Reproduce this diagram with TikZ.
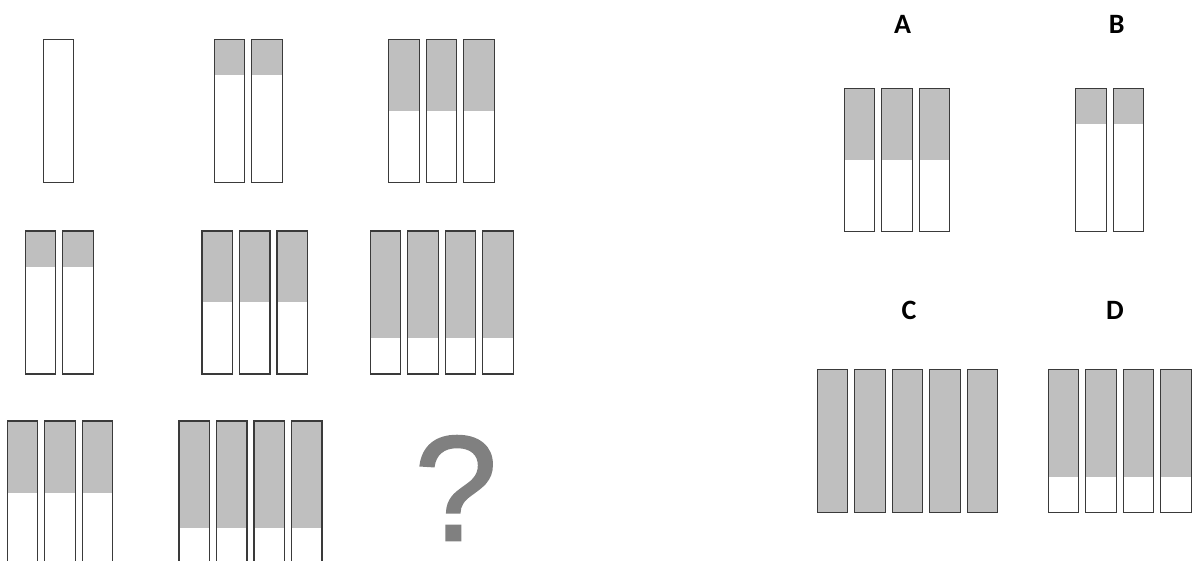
\documentclass[tikz,border=0pt]{standalone}
\usepackage{fontspec}
\setsansfont{Carlito}
\newfontfamily\qfont[FakeBold=1.2]{Liberation Sans}
\definecolor{barfill}{HTML}{BFBFBF}
\definecolor{edge}{HTML}{3A3A3A}
\definecolor{qgray}{HTML}{808080}
\begin{document}
\begin{tikzpicture}[x=1pt,y=-1pt,
 tube/.style={draw=edge,line width=1.1pt},
 letter/.style={font=\sffamily\bfseries\fontsize{28}{30}\selectfont,anchor=base,inner sep=0pt}]
\path[use as bounding box] (0,0) rectangle (1195,561);
\begin{scope}
\clip (0,0) rectangle (1195,561);
% Each group: left edge, top, number of tubes, shaded fraction.
\foreach \x/\y/\n/\f in {43.3/39.3/1/0,214.3/39.3/2/.25,388.7/39.3/3/.5,
 25.3/231/2/.25,202/231/3/.5,370.3/231/4/.75,
 7.3/421/3/.5,179/421/4/.75,
 844.3/88.7/3/.5,1075.7/88.7/2/.25,817.3/369.3/5/1,1048.3/369.3/4/.75} {
 \foreach \i in {1,...,\n} {
  \fill[barfill] (\x+37.5*\i-37.5,\y) rectangle +(30.5,143*\f);
  \draw[tube] (\x+37.5*\i-37.5,\y) rectangle +(30.5,143);
 }
}
\end{scope}
\node[text=qgray,font=\qfont\fontsize{150}{150}\selectfont,inner sep=0pt] (qmark) at (455.9,488) {?};
% Answer labels.
\node[letter] (labA) at (902.7,33.3) {A};
\node[letter] (labB) at (1116.7,33.3) {B};
\node[letter] (labC) at (909,319.3) {C};
\node[letter] (labD) at (1115,319.3) {D};
\end{tikzpicture}
\end{document}
